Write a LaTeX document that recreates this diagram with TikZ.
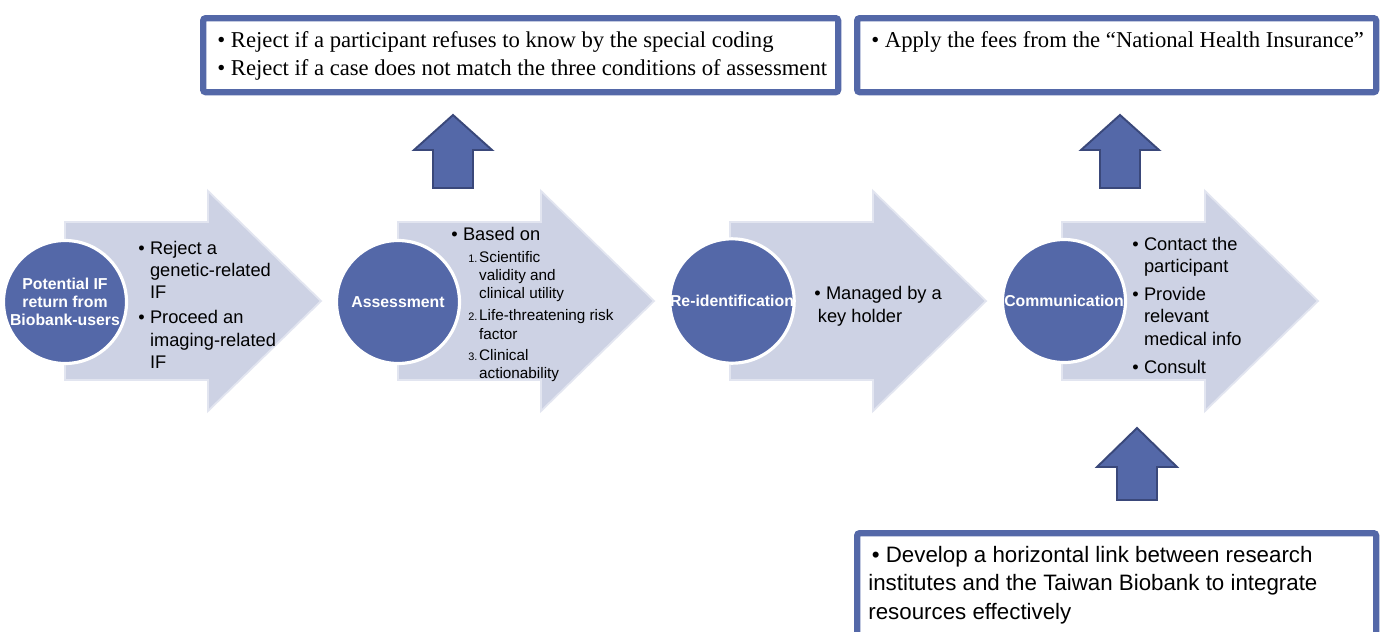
\documentclass[tikz,border=0pt]{standalone}
\usepackage{fontspec}
\setmainfont{Liberation Sans}
\newfontfamily\serifbox{Liberation Serif}
\usetikzlibrary{positioning,calc}

\definecolor{stepblue}{RGB}{84,104,168}
\definecolor{chevgray}{RGB}{205,210,228}
\definecolor{chevedge}{RGB}{226,229,240}
\definecolor{upedge}{RGB}{58,72,122}

\begin{document}
\begin{tikzpicture}[
    stage/.style={
        circle,
        fill=stepblue,
        draw=white,
        line width=1.8pt,
        minimum size=2.46cm,
        inner sep=0pt,
        align=center,
        text=white,
        font=\fontsize{9}{10.2}\selectfont\bfseries
    },
    chevron/.style={fill=chevgray, draw=chevedge, line width=1pt},
    listtext/.style={
        anchor=base west,
        inner sep=0pt,
        align=left,
        font=\fontsize{10.4}{12.8}\selectfont
    },
    sublist/.style={
        anchor=base west,
        inner sep=0pt,
        font=\fontsize{8.7}{10.5}\selectfont
    },
    infobox/.style={
        draw=stepblue,
        line width=3.6pt,
        rounded corners=1.5pt,
        fill=white,
        anchor=north west,
        inner sep=0pt
    },
    boxtext/.style={
        anchor=base west,
        inner sep=0pt,
        align=left,
        font=\serifbox\fontsize{12.9}{15.9}\selectfont
    },
    notetext/.style={
        anchor=base west,
        inner sep=0pt,
        align=left,
        font=\fontsize{12.7}{16.2}\selectfont
    },
    uparrow/.style={fill=stepblue, draw=upedge, line width=1.1pt}
]

% white page
\fill[white] (0,0) rectangle (27.64,-12.64);
\useasboundingbox (0,0) rectangle (27.64,-12.64);

% ============================================================
% Process chevrons
% ============================================================

\path[chevron] (1.30,-4.44) -- (4.16,-4.44) -- (4.16,-3.82)
    -- (6.42,-6.02) -- (4.16,-8.22) -- (4.16,-7.60) -- (1.30,-7.60) -- cycle;

\path[chevron] (7.96,-4.44) -- (10.82,-4.44) -- (10.82,-3.82)
    -- (13.08,-6.02) -- (10.82,-8.22) -- (10.82,-7.60) -- (7.96,-7.60) -- cycle;

\path[chevron] (14.60,-4.44) -- (17.46,-4.44) -- (17.46,-3.82)
    -- (19.72,-6.02) -- (17.46,-8.22) -- (17.46,-7.60) -- (14.60,-7.60) -- cycle;

\path[chevron] (21.24,-4.44) -- (24.10,-4.44) -- (24.10,-3.82)
    -- (26.36,-6.02) -- (24.10,-8.22) -- (24.10,-7.60) -- (21.24,-7.60) -- cycle;

% ============================================================
% Stage circles
% ============================================================

\node[stage] (potential) at (1.30,-6.04)
    {Potential IF\\return from\\Biobank-users};

\node[stage] (assess) at (7.96,-6.04)
    {Assessment};

\node[stage] (reident) at (14.64,-6.02)
    {Re-identification};

\node[stage] (commun) at (21.28,-6.02)
    {Communication};

% ============================================================
% Stage contents
% ============================================================

\node[listtext] (potentialpts) at (2.76,-5.08)
{\begin{tabular}[t]{@{}l@{\hspace{3pt}}l@{}}
\textbullet & Reject a\\
            & genetic-related\\
            & IF\\[1.4pt]
\textbullet & Proceed an\\
            & imaging-related\\
            & IF
\end{tabular}};

\node[listtext] (basedon) at (9.02,-4.80)
    {\textbullet\hspace{3pt}Based on};

\node[sublist] (criteria) at (9.36,-5.24)
{\begin{tabular}[t]{@{}r@{\hspace{1pt}}l@{}}
{\fontsize{6.2}{7}\selectfont 1.} & Scientific\\
    & validity and\\
    & clinical utility\\[2pt]
{\fontsize{6.2}{7}\selectfont 2.} & Life-threatening risk\\
    & factor\\[1.5pt]
{\fontsize{6.2}{7}\selectfont 3.} & Clinical\\
    & actionability
\end{tabular}};

% base of a multi-line node sits on its last line
\node[listtext] (keyholder) at (16.28,-6.44)
    {\textbullet\hspace{3pt}Managed by a\\\hspace{2pt}key holder};

\node[listtext] (contactpts) at (22.64,-5.00)
{\begin{tabular}[t]{@{}l@{\hspace{3pt}}l@{}}
\textbullet & Contact the\\
            & participant\\[3pt]
\textbullet & Provide\\
            & relevant\\
            & medical info\\[3pt]
\textbullet & Consult
\end{tabular}};

% ============================================================
% Side boxes
% ============================================================

\node[infobox, minimum width=12.70cm, minimum height=1.48cm]
    (rejectbox) at (4.00,-0.30) {};

\node[infobox, minimum width=10.38cm, minimum height=1.48cm]
    (feebox) at (17.08,-0.30) {};

\node[infobox, minimum width=10.38cm, minimum height=2.60cm]
    (linkbox) at (17.08,-10.60) {};

\node[boxtext] (rejecttext) at (4.34,-1.51)
{\textbullet\ Reject if a participant refuses to know by the special coding\\
 \textbullet\ Reject if a case does not match the three conditions of assessment};

\node[boxtext] (feetext) at (17.42,-0.95)
{\textbullet\ Apply the fees from the “National Health Insurance”};

\node[notetext] (linktext) at (17.36,-12.38)
{\hspace{2pt}\textbullet\ Develop a horizontal link between research\\
 institutes and the Taiwan Biobank to integrate\\
 resources effectively};

% ============================================================
% Block arrows
% ============================================================

% up to the reject box
\path[uparrow] (8.66,-3.76) -- (8.66,-3.00) -- (8.28,-3.00)
    -- (9.06,-2.30) -- (9.84,-3.00) -- (9.46,-3.00) -- (9.46,-3.76) -- cycle;

% up to the fee box
\path[uparrow] (22.00,-3.76) -- (22.00,-3.00) -- (21.62,-3.00)
    -- (22.40,-2.30) -- (23.18,-3.00) -- (22.80,-3.00) -- (22.80,-3.76) -- cycle;

% up from the link box
\path[uparrow] (22.34,-10.00) -- (22.34,-9.34) -- (21.94,-9.34)
    -- (22.74,-8.56) -- (23.54,-9.34) -- (23.14,-9.34) -- (23.14,-10.00) -- cycle;

\end{tikzpicture}
\end{document}
